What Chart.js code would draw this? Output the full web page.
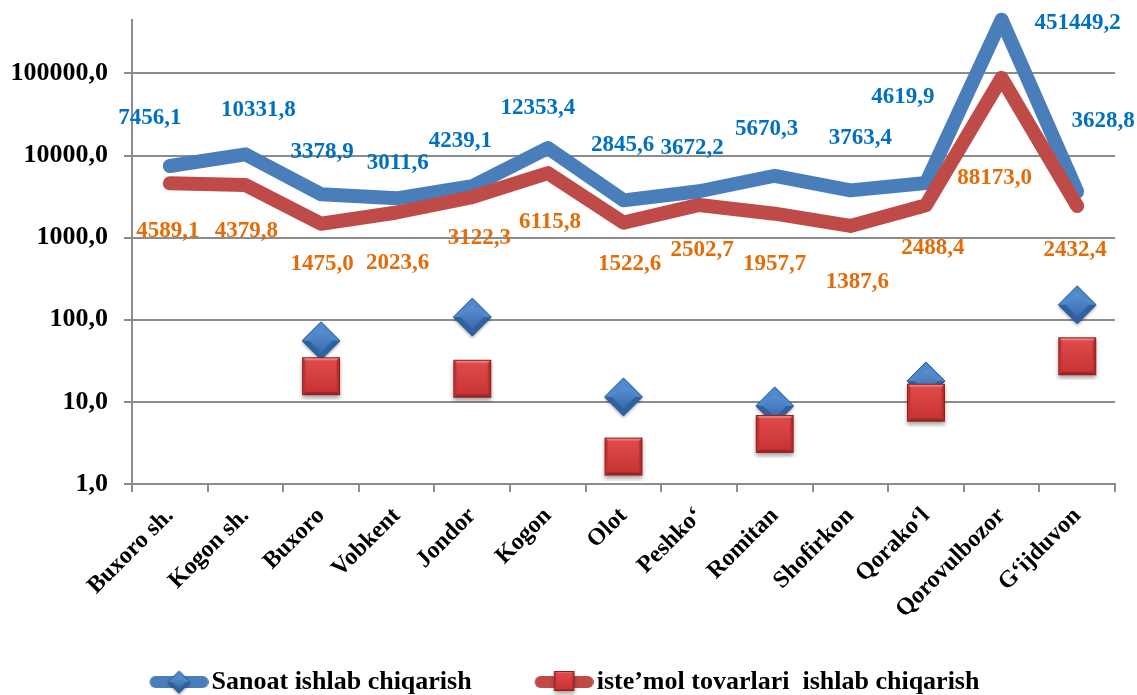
<!DOCTYPE html>
<html><head><meta charset="utf-8">
<script src="https://cdn.jsdelivr.net/npm/chart.js@4/dist/chart.umd.min.js"></script>
<style>html,body{margin:0;padding:0;background:#fff;}#wrap{width:1137px;height:695px;}</style>
</head><body><div id="wrap"><canvas id="c" width="1137" height="695"></canvas></div>
<script>
// ---------- data ----------
const categories = ['Buxoro sh.','Kogon sh.','Buxoro','Vobkent','Jondor','Kogon','Olot','Peshko‘','Romitan','Shofirkon','Qorako‘l','Qorovulbozor','G‘ijduvon'];
const sanoat = [7456.1, 10331.8, 3378.9, 3011.6, 4239.1, 12353.4, 2845.6, 3672.2, 5670.3, 3763.4, 4619.9, 451449.2, 3628.8];
const istemol = [4589.1, 4379.8, 1475.0, 2023.6, 3122.3, 6115.8, 1522.6, 2502.7, 1957.7, 1387.6, 2488.4, 88173.0, 2432.4];
const sanoatMarkers = [null, null, 54, null, 105, null, 11.2, null, 8.7, null, 17.5, null, 148];
const istemolMarkers = [null, null, 20, null, 18.6, null, 2.1, null, 3.96, null, 9.5, null, 35];
const yTicks = [1, 10, 100, 1000, 10000, 100000];
const seriesNames = ['Sanoat ishlab chiqarish', 'iste’mol tovarlari  ishlab chiqarish'];

// ---------- label placement (layout, not data) ----------
const blueLabelOffsets = [[-20,-48],[13,-44],[1,-42],[1,-35],[-12,-45],[-10,-40],[-1,-55],[-7,-43],[-8,-47],[10,-52],[-23,-86],[76,3],[26,-71]];
const redLabelOffsets = [[-2,48],[1,46],[1,40],[1,51],[7,41],[2,49],[6,41],[3,45],[0,50],[7,56],[7,43],[-7,100],[-2,44]];

const FONT = '"Liberation Serif","Times New Roman",serif';
const BLUE = '#4a7ebb', RED = '#be4b48';
const fmt = v => Number(v).toFixed(1).replace('.', ',');

function diamondPath(g, cx, cy, r) {
  g.beginPath(); g.moveTo(cx - r, cy); g.lineTo(cx, cy - r); g.lineTo(cx + r, cy); g.lineTo(cx, cy + r); g.closePath();
}
function drawDiamond(g, cx, cy, r) {
  g.save();
  g.shadowColor = 'rgba(0,0,0,0.35)'; g.shadowBlur = 3; g.shadowOffsetY = 2;
  diamondPath(g, cx, cy, r); g.fillStyle = '#3c70b4'; g.fill();
  g.restore();
  g.beginPath(); g.moveTo(cx - r, cy); g.lineTo(cx, cy - r); g.lineTo(cx + r, cy); g.closePath();
  g.fillStyle = '#5088cc'; g.fill();
  g.beginPath(); g.moveTo(cx - r, cy); g.lineTo(cx, cy + r); g.lineTo(cx + r, cy); g.closePath();
  g.fillStyle = '#2f609f'; g.fill();
  const gr = g.createLinearGradient(cx, cy - r * 0.6, cx, cy + r * 0.6);
  gr.addColorStop(0, '#5a92d6'); gr.addColorStop(1, '#3a6cae');
  diamondPath(g, cx, cy, r * 0.62); g.fillStyle = gr; g.fill();
  diamondPath(g, cx, cy, r); g.strokeStyle = '#2a5590'; g.lineWidth = 1; g.stroke();
}
function drawSquare(g, cx, cy, h) {
  g.save();
  g.shadowColor = 'rgba(0,0,0,0.35)'; g.shadowBlur = 4; g.shadowOffsetY = 3;
  g.fillStyle = '#c93636'; g.fillRect(cx - h, cy - h, 2 * h, 2 * h);
  g.restore();
  const b = h * 0.18;
  g.beginPath(); g.moveTo(cx - h, cy - h); g.lineTo(cx + h, cy - h); g.lineTo(cx + h - b, cy - h + b); g.lineTo(cx - h + b, cy - h + b); g.closePath();
  g.fillStyle = '#e97b7b'; g.fill();
  g.beginPath(); g.moveTo(cx - h, cy + h); g.lineTo(cx + h, cy + h); g.lineTo(cx + h - b, cy + h - b); g.lineTo(cx - h + b, cy + h - b); g.closePath();
  g.fillStyle = '#9e2424'; g.fill();
  g.beginPath(); g.moveTo(cx - h, cy - h); g.lineTo(cx - h + b, cy - h + b); g.lineTo(cx - h + b, cy + h - b); g.lineTo(cx - h, cy + h); g.closePath();
  g.fillStyle = '#c03232'; g.fill();
  g.beginPath(); g.moveTo(cx + h, cy - h); g.lineTo(cx + h - b, cy - h + b); g.lineTo(cx + h - b, cy + h - b); g.lineTo(cx + h, cy + h); g.closePath();
  g.fillStyle = '#b52c2c'; g.fill();
  const gr = g.createLinearGradient(cx, cy - h + b, cx, cy + h - b);
  gr.addColorStop(0, '#e04a4a'); gr.addColorStop(1, '#c83434');
  g.fillStyle = gr; g.fillRect(cx - h + b, cy - h + b, 2 * (h - b), 2 * (h - b));
  g.strokeStyle = '#8e2020'; g.lineWidth = 1; g.strokeRect(cx - h + 0.5, cy - h + 0.5, 2 * h - 1, 2 * h - 1);
}
function makeCanvas(w, h, fn) { const c = document.createElement('canvas'); c.width = w; c.height = h; fn(c.getContext('2d')); return c; }

const diamondImg = makeCanvas(44, 44, g => drawDiamond(g, 22, 21, 19));
const squareImg = makeCanvas(46, 46, g => drawSquare(g, 23, 22, 19));
// legend sample: box width 63, image 83 wide (extends 10px each side), line at image x 24..83
function legendImg(color, marker) {
  return makeCanvas(83, 28, g => {
    g.strokeStyle = color; g.lineWidth = 12; g.lineCap = 'round';
    g.beginPath(); g.moveTo(30, 14); g.lineTo(77, 14); g.stroke();
    if (marker === 'd') drawDiamond(g, 53.5, 14, 11); else drawSquare(g, 53.5, 13, 10);
  });
}
const legendBlue = legendImg(BLUE, 'd');
const legendRed = legendImg(RED, 's');

const labelPlugin = {
  id: 'valueLabels',
  afterDatasetsDraw(chart) {
    const ctx = chart.ctx;
    ctx.save();
    ctx.font = 'bold 23px ' + FONT;
    ctx.textAlign = 'center'; ctx.textBaseline = 'middle';
    [[0, blueLabelOffsets, '#0070c0'], [1, redLabelOffsets, '#e36c09']].forEach(([di, offs, col]) => {
      const meta = chart.getDatasetMeta(di);
      ctx.fillStyle = col;
      meta.data.forEach((pt, i) => {
        const v = chart.data.datasets[di].data[i];
        ctx.fillText(fmt(v), pt.x + offs[i][0], pt.y + offs[i][1]);
      });
    });
    ctx.restore();
  }
};

new Chart(document.getElementById('c'), {
  type: 'line',
  data: {
    labels: categories,
    datasets: [
      { label: seriesNames[0], data: sanoat, borderColor: BLUE, backgroundColor: BLUE, borderWidth: 14, pointRadius: 0,
        borderCapStyle: 'round', borderJoinStyle: 'round', tension: 0, fill: false, clip: false, order: 4 },
      { label: seriesNames[1], data: istemol, borderColor: RED, backgroundColor: RED, borderWidth: 14, pointRadius: 0,
        borderCapStyle: 'round', borderJoinStyle: 'round', tension: 0, fill: false, clip: false, order: 3 },
      { label: 'm1', data: sanoatMarkers, showLine: false, pointStyle: diamondImg, pointRadius: 19, order: 2, clip: false },
      { label: 'm2', data: istemolMarkers, showLine: false, pointStyle: squareImg, pointRadius: 19, order: 1, clip: false }
    ]
  },
  options: {
    responsive: false, animation: false, events: [], devicePixelRatio: 1,
    layout: { padding: { top: 15, right: 22, left: 0, bottom: -10 } },
    plugins: {
      tooltip: { enabled: false },
      legend: {
        position: 'bottom',
        labels: {
          usePointStyle: true, pointStyleWidth: 63, padding: 49, color: '#000',
          font: { family: FONT, size: 26, weight: 'bold' },
          generateLabels: () => [
            { text: seriesNames[0], pointStyle: legendBlue, datasetIndex: 0, hidden: false, lineWidth: 0, fillStyle: BLUE, strokeStyle: BLUE, fontColor: '#000' },
            { text: seriesNames[1], pointStyle: legendRed, datasetIndex: 1, hidden: false, lineWidth: 0, fillStyle: RED, strokeStyle: RED, fontColor: '#000' }
          ]
        }
      }
    },
    scales: {
      x: {
        type: 'category', offset: true,
        grid: { offset: true, drawOnChartArea: false, tickLength: 8, color: '#8c8c8c', lineWidth: 2 },
        border: { color: '#8c8c8c', width: 2 },
        ticks: { autoSkip: false, minRotation: 45, maxRotation: 45, padding: 10, color: '#000',
          font: { family: FONT, size: 24, weight: 'bold' } },
        afterFit: s => { s.height = 136; s._computeLabelArea = () => undefined; }
      },
      y: {
        type: 'logarithmic', min: 1, max: 447000,
        afterBuildTicks: s => { s.ticks = yTicks.map(v => ({ value: v })); },
        ticks: { callback: v => fmt(v), padding: 16, color: '#000', font: { family: FONT, size: 26, weight: 'bold' } },
        grid: { color: '#8c8c8c', lineWidth: 2, tickLength: 8 },
        border: { color: '#8c8c8c', width: 2 },
        afterFit: s => { s.width = 132; s.paddingTop = 0; s.paddingBottom = 0; }
      }
    }
  },
  plugins: [labelPlugin]
});
</script></body></html>
